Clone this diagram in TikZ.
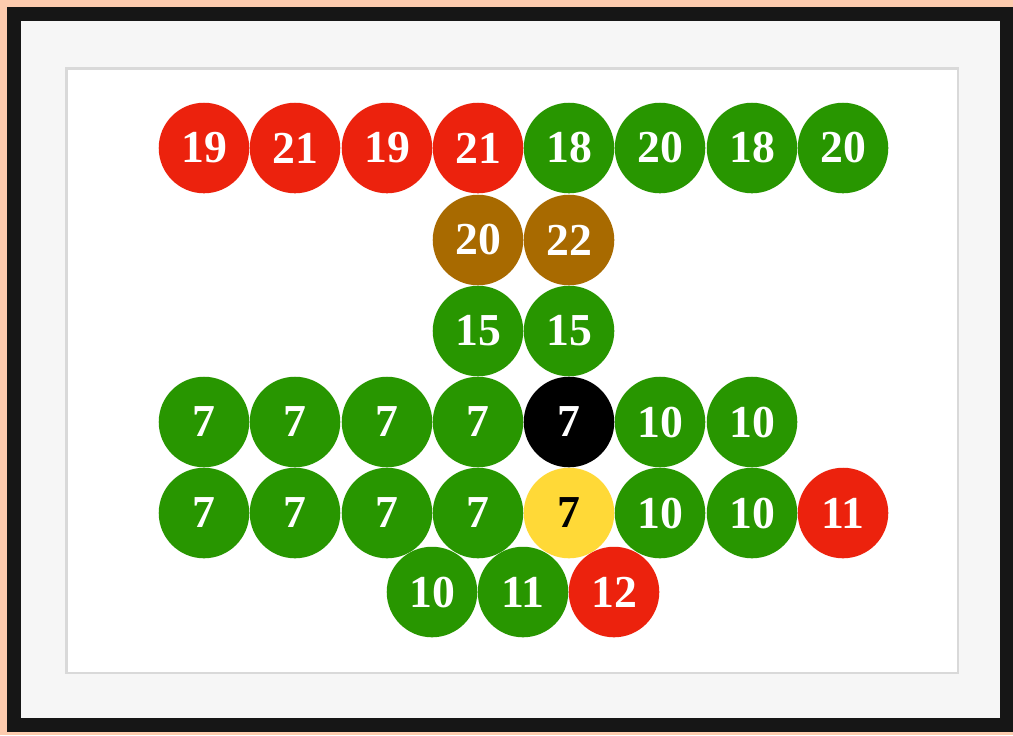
\documentclass[tikz,border=0pt]{standalone}
\usepackage{fontspec}
\setmainfont{Liberation Serif}
\usetikzlibrary{positioning}
\definecolor{peach}{HTML}{FDCBAE}
\definecolor{frame}{HTML}{161616}
\definecolor{mat}{HTML}{F6F6F6}
\definecolor{tred}{HTML}{EC220D}
\definecolor{tgreen}{HTML}{289600}
\definecolor{tbrown}{HTML}{A86A00}
\definecolor{tyellow}{HTML}{FFD937}
\tikzset{ball/.style={circle,minimum size=.905cm,inner sep=0pt,text=white,
  font=\bfseries\fontsize{13}{13}\selectfont}}

\begin{document}
\begin{tikzpicture}[x=.01cm,y=-.01cm]
\useasboundingbox (0,0) rectangle (1013,735);
% frame and mat
\fill[peach] (0,0) rectangle (1013,735);
\fill[frame] (7,7) rectangle (1013,732);
\fill[mat] (21,21) rectangle (1000,718);
\fill[black!15] (65,67) rectangle (959,674);
\fill[white] (68,70) rectangle (957,672);
% top row
\node[ball,fill=tred] (a1) at (204,148) {19};
\node[ball,fill=tred] (a2) at (295,148) {21};
\node[ball,fill=tred] (a3) at (387,148) {19};
\node[ball,fill=tred] (a4) at (478,148) {21};
\node[ball,fill=tgreen] (a5) at (569,148) {18};
\node[ball,fill=tgreen] (a6) at (660,148) {20};
\node[ball,fill=tgreen] (a7) at (752,148) {18};
\node[ball,fill=tgreen] (a8) at (843,148) {20};
% stem
\node[ball,fill=tbrown] (b1) at (478,240) {20};
\node[ball,fill=tbrown] (b2) at (569,240) {22};
\node[ball,fill=tgreen] (c1) at (478,331) {15};
\node[ball,fill=tgreen] (c2) at (569,331) {15};
% middle rows
\node[ball,fill=tgreen] (d1) at (204,422) {7};
\node[ball,fill=tgreen] (d2) at (295,422) {7};
\node[ball,fill=tgreen] (d3) at (387,422) {7};
\node[ball,fill=tgreen] (d4) at (478,422) {7};
\node[ball,fill=black] (d5) at (569,422) {7};
\node[ball,fill=tgreen] (d6) at (660,422) {10};
\node[ball,fill=tgreen] (d7) at (752,422) {10};
\node[ball,fill=tgreen] (e1) at (204,513) {7};
\node[ball,fill=tgreen] (e2) at (295,513) {7};
\node[ball,fill=tgreen] (e3) at (387,513) {7};
\node[ball,fill=tgreen] (e4) at (478,513) {7};
\node[ball,fill=tyellow,text=black] (e5) at (569,513) {7};
\node[ball,fill=tgreen] (e6) at (660,513) {10};
\node[ball,fill=tgreen] (e7) at (752,513) {10};
\node[ball,fill=tred] (e8) at (843,513) {11};
% bottom row
\node[ball,fill=tgreen] (f1) at (432,592) {10};
\node[ball,fill=tgreen] (f2) at (523,592) {11};
\node[ball,fill=tred] (f3) at (614,592) {12};
\end{tikzpicture}
\end{document}
